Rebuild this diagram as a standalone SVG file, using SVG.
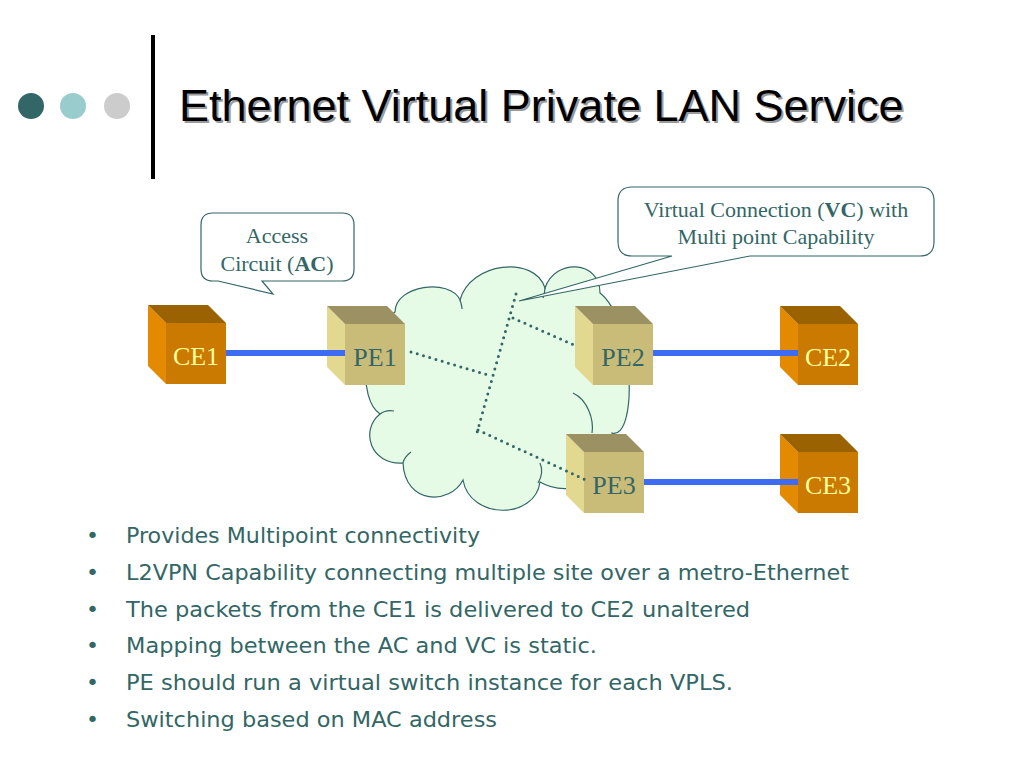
<svg xmlns="http://www.w3.org/2000/svg" xmlns:xlink="http://www.w3.org/1999/xlink" width="1024" height="768" viewBox="0 0 1024 768">
  <style>
    .title { font-family: "Liberation Sans", Arial, sans-serif; font-size: 45px; }
    .call { font-family: "Liberation Serif", "Times New Roman", serif; font-size: 22px; fill: #336666; text-anchor: middle; }
    .lbl { font-family: "Liberation Serif", "Times New Roman", serif; font-size: 26px; text-anchor: middle; }
    .ce { fill: #FFFF99; }
    .pe { fill: #336666; }
    .bul { font-family: "DejaVu Sans", Verdana, sans-serif; font-size: 22px; fill: #336666; }
    .callout { fill: #FFFFFF; stroke: #336666; stroke-width: 1.2; }
    .ac { stroke: #3D6CF2; stroke-width: 6; fill: none; }
    .vc { stroke: #336666; stroke-width: 3; stroke-linecap: round; stroke-dasharray: 0 6.5; fill: none; }
    .cloud { fill: #E6FBE6; stroke: #336666; stroke-width: 1.2; }
    .inner { fill: none; stroke: #336666; stroke-width: 1.2; }
  </style>
  <defs>
    <g id="ceCube">
      <polygon points="0,0 18,18 18,79 0,61" fill="#E48A00"/>
      <polygon points="0,0 60,0 78,18 18,18" fill="#9A6200"/>
      <rect x="18" y="18" width="60" height="61" fill="#CA7A00"/>
    </g>
    <g id="peCube">
      <polygon points="0,0 18,18 18,79 0,61" fill="#E2D890"/>
      <polygon points="0,0 60,0 78,18 18,18" fill="#9C9162"/>
      <rect x="18" y="18" width="60" height="61" fill="#C9BC79"/>
    </g>
  </defs>
  <rect width="1024" height="768" fill="#FFFFFF"/>

  <!-- header decoration -->
  <g id="header">
    <circle cx="31" cy="106" r="13" fill="#336666"/>
    <circle cx="73" cy="106" r="13" fill="#99CCCC"/>
    <circle cx="117" cy="106" r="13" fill="#CCCCCC"/>
    <rect x="151" y="35" width="4" height="144" fill="#000000"/>
    <text class="title" x="181" y="123" fill="#9A9A9A">Ethernet Virtual Private LAN Service</text>
    <text class="title" x="179" y="121" fill="#000000">Ethernet Virtual Private LAN Service</text>
  </g>

  <!-- cloud -->
  <g id="cloud">
    <path class="cloud" d="M 380,414 C 358,400 360,330 395,312 C 395,285 450,278 460,300 C 470,262 535,255 545,288 C 555,258 600,260 600,293 C 635,320 638,440 612,433 C 620,480 570,500 540,482 C 535,520 470,520 463,480 C 450,505 405,505 403,463 C 370,465 360,430 380,414 Z"/>
    <path class="inner" d="M 573,393 C 588,400 594,420 592,433"/>
    <path class="inner" d="M 540,463 C 543,470 541,478 538,483"/>
    <path class="inner" d="M 403,463 C 404,458 407,455 411,452"/>
    <path class="inner" d="M 380,414 C 384,411 389,410 394,411"/>
    <path class="inner" d="M 460,300 C 461,303 462,306 462,309"/>
    <path class="inner" d="M 545,288 C 545,292 544,295 543,298"/>
  </g>

  <!-- callouts -->
  <g id="callout-ac">
    <path class="callout" d="M 213,213 H 342 Q 354,213 354,225 V 269 Q 354,281 342,281 H 262 L 273,294 L 218,281 H 213 Q 201,281 201,269 V 225 Q 201,213 213,213 Z"/>
    <text class="call" x="277" y="243">Access</text>
    <text class="call" x="277" y="271">Circuit (<tspan font-weight="bold">AC</tspan>)</text>
  </g>
  <g id="callout-vc">
    <path class="callout" d="M 632,187 H 920 Q 934,187 934,201 V 242 Q 934,256 920,256 H 750 L 519,301 L 672,256 H 632 Q 618,256 618,242 V 201 Q 618,187 632,187 Z"/>
    <text class="call" x="776" y="217">Virtual Connection (<tspan font-weight="bold">VC</tspan>) with</text>
    <text class="call" x="776" y="244">Multi point Capability</text>
  </g>

  <!-- nodes -->
  <g id="CE1">
    <use xlink:href="#ceCube" x="148" y="305"/>
    <text class="lbl ce" x="196" y="365">CE1</text>
  </g>
  <g id="PE1">
    <use xlink:href="#peCube" x="327" y="306"/>
    <text class="lbl pe" x="375" y="366">PE1</text>
  </g>
  <g id="PE2">
    <use xlink:href="#peCube" x="575" y="306"/>
    <text class="lbl pe" x="623" y="366">PE2</text>
  </g>
  <g id="PE3">
    <use xlink:href="#peCube" x="566" y="434"/>
    <text class="lbl pe" x="614" y="494">PE3</text>
  </g>
  <g id="CE2">
    <use xlink:href="#ceCube" x="780" y="306"/>
    <text class="lbl ce" x="828" y="366">CE2</text>
  </g>
  <g id="CE3">
    <use xlink:href="#ceCube" x="780" y="434"/>
    <text class="lbl ce" x="828" y="494">CE3</text>
  </g>

  <!-- connectors -->
  <g id="connectors">
    <line class="ac" x1="226" y1="353" x2="345" y2="353"/>
    <line class="ac" x1="653" y1="353" x2="798" y2="353"/>
    <line class="ac" x1="644" y1="482" x2="798" y2="482"/>
    <line class="vc" x1="516" y1="294" x2="476" y2="436"/>
    <line class="vc" x1="513" y1="318" x2="574" y2="345"/>
    <line class="vc" x1="411" y1="352" x2="488" y2="375"/>
    <line class="vc" x1="478" y1="430" x2="588" y2="481"/>
  </g>

  <!-- bullets -->
  <g id="bullets">
    <text class="bul" x="86" y="543">•</text>
    <text class="bul" x="126" y="543" textLength="354" lengthAdjust="spacingAndGlyphs">Provides Multipoint connectivity</text>
    <text class="bul" x="86" y="580">•</text>
    <text class="bul" x="126" y="580" textLength="723" lengthAdjust="spacingAndGlyphs">L2VPN Capability connecting multiple site over a metro-Ethernet</text>
    <text class="bul" x="86" y="617">•</text>
    <text class="bul" x="126" y="617" textLength="624" lengthAdjust="spacingAndGlyphs">The packets from the CE1 is delivered to CE2 unaltered</text>
    <text class="bul" x="86" y="653">•</text>
    <text class="bul" x="126" y="653" textLength="471" lengthAdjust="spacingAndGlyphs">Mapping between the AC and VC is static.</text>
    <text class="bul" x="86" y="690">•</text>
    <text class="bul" x="126" y="690" textLength="607" lengthAdjust="spacingAndGlyphs">PE should run a virtual switch instance for each VPLS.</text>
    <text class="bul" x="86" y="727">•</text>
    <text class="bul" x="126" y="727" textLength="371" lengthAdjust="spacingAndGlyphs">Switching based on MAC address</text>
  </g>
</svg>
